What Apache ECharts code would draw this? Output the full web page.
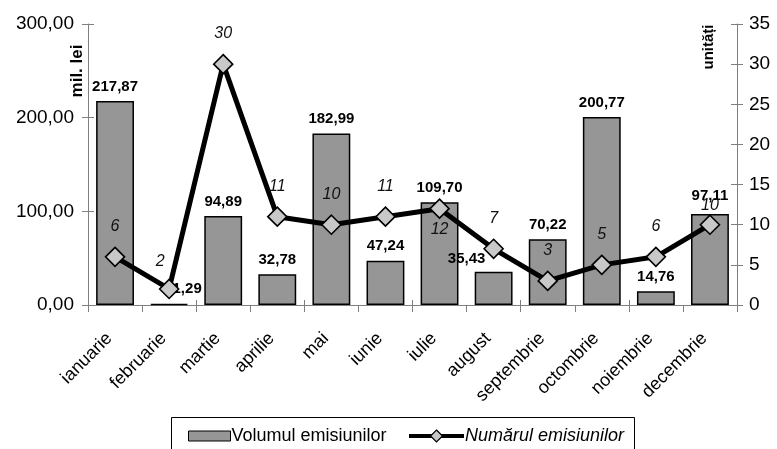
<!DOCTYPE html>
<html>
<head>
<meta charset="utf-8">
<script src="https://cdn.jsdelivr.net/npm/echarts@6/dist/echarts.min.js"></script>
<style>
html,body{margin:0;padding:0;background:#fff;}
#chart{width:777px;height:449px;}
</style>
</head>
<body>
<div id="chart"></div>
<script>
const categories = ['ianuarie','februarie','martie','aprilie','mai','iunie','iulie','august','septembrie','octombrie','noiembrie','decembrie'];
const volume = [217.87, 1.29, 94.89, 32.78, 182.99, 47.24, 109.70, 35.43, 70.22, 200.77, 14.76, 97.11];
const count = [6, 2, 30, 11, 10, 11, 12, 7, 3, 5, 6, 10];
const seriesNames = ['Volumul emisiunilor', 'Numărul emisiunilor'];
const leftAxisName = 'mil. lei';
const rightAxisName = 'unități';

const FONT = '"Liberation Sans", Arial, sans-serif';
const fmt2 = v => v.toFixed(2).replace('.', ',');

// label placement tweaks (by index) to mimic the original overlaps
const barLabelTweak = { 1: { offset: [18, 0] }, 7: { offset: [-27, 2] }, 11: { distance: 11 } };
const lineLabelTweak = { 1: { offset: [-9, 3] }, 6: { position: 'bottom', distance: 3 }, 11: { distance: 1 } };

const chart = echarts.init(document.getElementById('chart'), null, { renderer: 'canvas' });

const axisGray = '#808080';

const option = {
  animation: false,
  backgroundColor: '#fff',
  textStyle: { fontFamily: FONT },
  grid: { left: 88, right: 40, top: 24, bottom: 144 },
  xAxis: [
    {
      type: 'category', data: categories, position: 'bottom',
      axisLine: { lineStyle: { color: axisGray, width: 1 } },
      axisTick: { show: true, length: 7, lineStyle: { color: axisGray } },
      axisLabel: { rotate: 45, margin: 25, padding: [0, 8, 0, 0], fontSize: 18, color: '#000', fontFamily: FONT, interval: 0 },
      splitLine: { show: false }
    },
    {
      type: 'category', data: categories, position: 'bottom',
      axisLine: { show: false },
      axisTick: { show: true, inside: true, length: 5, lineStyle: { color: axisGray } },
      axisLabel: { show: false }, splitLine: { show: false }
    }
  ],
  yAxis: [
    {
      type: 'value', position: 'left', min: 0, max: 300, interval: 100,
      axisLine: { show: true, lineStyle: { color: axisGray } },
      axisTick: { show: true, length: 6, lineStyle: { color: axisGray } },
      axisLabel: { formatter: fmt2, fontSize: 19, color: '#000', margin: 14, fontFamily: FONT },
      splitLine: { show: false }
    },
    {
      type: 'value', position: 'right', min: 0, max: 35, interval: 5,
      axisLine: { show: true, lineStyle: { color: axisGray } },
      axisTick: { show: true, length: 6, lineStyle: { color: axisGray } },
      axisLabel: { fontSize: 19, color: '#000', margin: 12, fontFamily: FONT },
      splitLine: { show: false }
    },
    {
      type: 'value', position: 'left', min: 0, max: 300, interval: 100,
      axisLine: { show: false },
      axisTick: { show: true, inside: true, length: 6, lineStyle: { color: axisGray } },
      axisLabel: { show: false }, splitLine: { show: false }
    },
    {
      type: 'value', position: 'right', min: 0, max: 35, interval: 5,
      axisLine: { show: false },
      axisTick: { show: true, inside: true, length: 6, lineStyle: { color: axisGray } },
      axisLabel: { show: false }, splitLine: { show: false }
    }
  ],
  legend: [
    {
      data: [{ name: seriesNames[0], icon: 'rect' }], left: 183, top: 422, itemWidth: 42, itemHeight: 10, itemGap: 0,
      itemStyle: { color: '#969696', borderColor: '#000', borderWidth: 1 },
      textStyle: { fontSize: 18, color: '#000', fontFamily: FONT, padding: [0, 0, 0, -4] }
    },
    {
      data: [seriesNames[1]], left: 402, top: 422, itemWidth: 55, itemHeight: 15, itemGap: 0,
      lineStyle: { color: '#000', width: 4 },
      itemStyle: { color: '#c8c8c8', borderColor: '#000', borderWidth: 1.2 },
      textStyle: { fontSize: 18, color: '#000', fontStyle: 'italic', fontFamily: FONT, padding: [0, 0, 0, -4] }
    }
  ],
  graphic: [
    { type: 'rect', left: 169, top: 415, shape: { width: 463, height: 40 }, style: { fill: 'none', stroke: '#000', lineWidth: 1 }, z: 0 },
    { type: 'text', x: 77, y: 71, rotation: Math.PI / 2, style: { text: leftAxisName, font: 'bold 17px ' + FONT, fill: '#000', align: 'center', verticalAlign: 'middle' } },
    { type: 'text', x: 709, y: 47, rotation: Math.PI / 2, style: { text: rightAxisName, font: 'bold 15px ' + FONT, fill: '#000', align: 'center', verticalAlign: 'middle' } }
  ],
  series: [
    {
      name: seriesNames[0], type: 'bar', yAxisIndex: 0, barCategoryGap: '30%',
      itemStyle: { color: '#969696', borderColor: '#000', borderWidth: 1.5 },
      label: {
        show: true, position: 'top', distance: 7, formatter: p => fmt2(p.value),
        fontSize: 15, fontWeight: 'bold', color: '#000', fontFamily: FONT
      },
      data: volume.map((v, i) => barLabelTweak[i] ? { value: v, label: barLabelTweak[i] } : v),
      z: 2
    },
    {
      name: seriesNames[1], type: 'line', yAxisIndex: 1,
      symbol: 'diamond', symbolSize: 19,
      lineStyle: { color: '#000', width: 5 },
      itemStyle: { color: '#c8c8c8', borderColor: '#000', borderWidth: 1.6 },
      label: {
        show: true, position: 'top', distance: 12,
        fontSize: 16, fontStyle: 'italic', color: '#111', fontFamily: FONT
      },
      data: count.map((v, i) => lineLabelTweak[i] ? { value: v, label: lineLabelTweak[i] } : v),
      z: 3
    }
  ]
};
chart.setOption(option);
</script>
</body>
</html>
